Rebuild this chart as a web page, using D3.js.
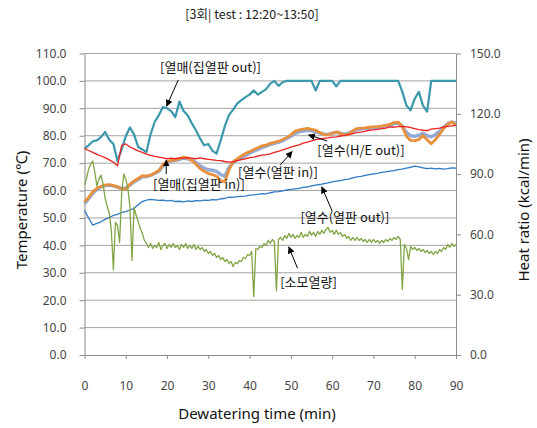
<!DOCTYPE html>
<html>
<head>
<meta charset="utf-8">
<script src="https://cdn.jsdelivr.net/npm/d3@7"></script>
<style>
  html, body { margin: 0; padding: 0; background: #fff; }
  svg { display: block; }
  .axis text { font-family: "Noto Sans", "Noto Sans CJK KR", sans-serif; font-size: 12px; fill: #454545; }
  .axis path, .axis line { stroke: #8c8c8c; }
</style>
</head>
<body>
<svg id="chart" width="537" height="428"></svg>
<script>
// Time axis (minutes) and tick values
const xTicks = [0, 10, 20, 30, 40, 50, 60, 70, 80, 90];
const tempTicks = [0, 10, 20, 30, 40, 50, 60, 70, 80, 90, 100, 110];
const heatTicks = [0, 30, 60, 90, 120, 150];

// Temperatures (°C), one reading per minute, 0..90 min
const mediumOut = [75.3, 76.5, 78.0, 78.3, 79.5, 81.4, 78.5, 77.0, 70.8, 75.0, 79.8, 83.0, 80.5, 75.9, 75.0, 74.0, 80.5, 85.0, 87.5, 90.5,
  90.0, 89.0, 86.8, 92.5, 89.0, 87.5, 84.5, 82.0, 79.0, 76.5, 77.0, 74.5, 73.5, 78.3, 83.5, 87.5, 89.5, 91.7, 93.0, 94.1,
  95.0, 96.5, 95.0, 96.0, 97.0, 99.0, 100.0, 98.2, 99.5, 100.0, 100.0, 100.0, 100.0, 100.0, 100.0, 100.0, 96.5, 100.0, 100.0, 100.0,
  100.0, 98.0, 100.0, 100.0, 100.0, 100.0, 100.0, 100.0, 100.0, 100.0, 100.0, 100.0, 100.0, 100.0, 100.0, 100.0, 100.0, 96.0, 91.0, 89.3,
  93.5, 96.0, 91.0, 88.8, 100.0, 100.0, 100.0, 100.0, 100.0, 100.0, 100.0];

const mediumIn = [75.3, 74.6, 73.9, 73.2, 72.6, 72.0, 71.2, 70.3, 69.0, 76.5, 77.0, 75.9, 75.2, 74.5, 73.9, 73.3, 72.8, 72.5, 72.2, 71.9,
  71.6, 71.8, 71.6, 71.9, 71.7, 72.0, 71.8, 71.6, 71.9, 71.6, 71.4, 71.2, 71.0, 70.9, 70.6, 70.4, 70.5, 70.9, 71.3, 71.6,
  72.0, 72.2, 72.6, 72.9, 73.1, 73.4, 73.9, 74.3, 74.8, 75.3, 75.8, 76.3, 76.7, 77.3, 77.7, 78.1, 78.6, 78.8, 79.0, 79.2,
  79.5, 79.6, 79.9, 80.1, 80.4, 80.8, 81.1, 81.3, 81.6, 82.0, 82.1, 82.3, 82.6, 82.8, 83.2, 83.1, 83.3, 83.4, 83.2, 83.0,
  82.6, 82.2, 82.0, 81.9, 82.4, 82.6, 82.8, 83.2, 83.4, 83.6, 83.8];

const waterExOut = [55.2, 57.0, 59.0, 60.5, 61.3, 61.8, 62.0, 61.7, 61.2, 60.8, 60.9, 62.0, 63.2, 64.0, 65.0, 65.1, 65.5, 66.2, 67.0, 69.0,
  70.2, 70.8, 71.0, 71.4, 71.8, 71.6, 71.2, 70.2, 69.0, 68.2, 67.6, 67.4, 67.0, 65.8, 65.2, 68.4, 70.2, 71.2, 72.0, 72.8,
  73.6, 74.4, 75.0, 75.6, 76.2, 76.8, 77.2, 77.6, 78.2, 79.0, 79.8, 80.8, 81.4, 81.7, 82.0, 81.8, 81.5, 81.0, 80.6, 80.5,
  80.9, 81.2, 80.9, 80.6, 80.9, 81.6, 82.2, 82.4, 82.6, 82.8, 83.0, 83.1, 83.3, 83.6, 83.9, 84.4, 84.6, 83.4, 81.2, 80.0,
  79.8, 80.2, 80.9, 80.0, 79.6, 80.4, 81.6, 83.0, 84.4, 85.0, 84.6];

const waterPlateIn = [55.9, 57.5, 59.5, 60.8, 61.5, 62.0, 62.2, 61.8, 61.4, 60.6, 60.5, 62.3, 63.5, 64.4, 65.4, 65.3, 65.6, 66.4, 67.3, 69.5,
  70.5, 71.0, 71.2, 71.6, 72.2, 71.8, 71.0, 69.6, 68.0, 67.0, 66.2, 65.8, 65.2, 63.6, 63.2, 67.5, 70.5, 71.6, 72.6, 73.5,
  74.2, 75.0, 75.6, 76.3, 76.6, 77.2, 77.6, 78.0, 78.6, 79.4, 80.3, 81.6, 82.1, 82.4, 82.7, 82.3, 82.0, 81.2, 80.4, 80.3,
  80.8, 81.4, 80.8, 80.2, 80.6, 81.8, 82.6, 82.8, 82.9, 83.1, 83.2, 83.3, 83.5, 83.8, 84.2, 84.8, 85.0, 83.3, 79.8, 78.3,
  78.2, 78.6, 80.1, 78.5, 77.1, 78.5, 80.5, 82.6, 84.2, 85.0, 83.8];

const waterPlateOut = [52.8, 50.0, 47.4, 48.0, 48.6, 49.5, 50.2, 50.9, 51.3, 52.0, 52.3, 52.9, 53.5, 54.8, 56.0, 56.5, 56.8, 56.6, 56.4, 56.5,
  56.2, 56.4, 56.0, 56.1, 55.9, 56.2, 56.0, 56.3, 56.2, 56.5, 56.4, 56.7, 56.6, 57.0, 57.1, 57.6, 57.5, 57.8, 57.9, 58.0,
  58.3, 58.4, 58.6, 58.9, 58.8, 59.2, 59.5, 59.6, 59.9, 60.2, 60.4, 60.6, 60.8, 61.2, 61.3, 61.7, 62.0, 62.2, 62.5, 62.8,
  63.2, 63.4, 63.6, 64.0, 64.2, 64.6, 65.0, 65.2, 65.5, 65.8, 66.1, 66.3, 66.6, 66.8, 67.1, 67.3, 67.6, 67.8, 68.2, 68.5,
  68.9, 68.6, 68.3, 68.0, 68.2, 67.9, 68.1, 67.8, 68.0, 68.3, 68.2];

// Heat consumption (kcal/min), one reading per half minute, 0..90 min
const heatRatio = [84.5, 88.0, 92.5, 95.0, 96.5, 91.0, 84.0, 87.5, 89.5, 85.0,
  78.0, 74.0, 70.5, 62.0, 42.5, 66.0, 64.5, 56.0, 80.0, 90.0,
  87.5, 83.0, 74.0, 47.0, 73.5, 69.5, 66.5, 63.0, 60.5, 57.0,
  55.5, 53.5, 55.5, 53.0, 54.5, 53.5, 56.0, 52.5, 54.5, 55.5,
  53.0, 55.0, 53.5, 55.5, 53.5, 54.5, 52.5, 55.0, 53.5, 55.5,
  53.0, 54.5, 53.0, 55.0, 52.5, 54.0, 52.5, 53.5, 51.5, 52.5,
  50.5, 51.5, 49.5, 50.5, 48.5, 49.5, 47.5, 48.5, 46.5, 47.5,
  45.5, 46.5, 44.0, 46.0, 45.5, 47.0, 46.5, 48.5, 48.0, 50.0,
  49.5, 51.5, 29.0, 53.0, 52.5, 54.0, 53.5, 55.5, 54.5, 57.0,
  55.5, 57.5, 56.5, 32.0, 57.5, 58.5, 57.0, 59.5, 58.0, 60.5,
  58.5, 60.0, 58.0, 59.5, 58.5, 61.0, 58.5, 60.0, 59.0, 61.5,
  59.5, 61.0, 59.0, 61.5, 60.0, 62.0, 60.5, 62.5, 63.5, 61.0,
  62.0, 60.0, 62.0, 60.0, 61.0, 59.0, 60.0, 58.0, 59.0, 57.0,
  58.5, 57.0, 58.5, 57.0, 58.0, 56.5, 57.5, 56.0, 57.5, 56.0,
  57.5, 56.0, 57.0, 55.5, 57.0, 56.0, 57.5, 56.5, 58.0, 57.0,
  58.5, 57.5, 59.0, 57.5, 32.5, 55.0, 53.0, 47.5, 54.0, 52.5,
  53.5, 52.0, 53.0, 51.5, 52.5, 51.0, 52.0, 50.5, 51.5, 50.0,
  51.5, 50.5, 52.5, 51.5, 53.5, 52.5, 55.0, 53.5, 55.5, 54.0,
  55.0];

const minutes = d3.range(0, 91, 1);
const halfMinutes = d3.range(0, 90.25, 0.5);

const svg = d3.select("#chart");
const plotLeft = 84.5, plotRight = 456, plotTop = 53.5, plotBottom = 355;

const x = d3.scaleLinear().domain([0, 90]).range([plotLeft, plotRight]);
const yT = d3.scaleLinear().domain([0, 110]).range([plotBottom, plotTop]);
const yH = d3.scaleLinear().domain([0, 150]).range([plotBottom, plotTop]);

// Horizontal gridlines
svg.append("g")
  .selectAll("line")
  .data(tempTicks.filter(d => d > 0))
  .join("line")
  .attr("x1", plotLeft).attr("x2", plotRight)
  .attr("y1", d => yT(d)).attr("y2", d => yT(d))
  .attr("stroke", "#a3a3a3").attr("stroke-width", 1);

// Axes
svg.append("g").attr("class", "axis")
  .attr("transform", `translate(${plotLeft},0)`)
  .call(d3.axisLeft(yT).tickValues(tempTicks).tickFormat(d3.format(".1f")).tickSize(5).tickPadding(13).tickSizeOuter(0));

svg.append("g").attr("class", "axis")
  .attr("transform", `translate(${plotRight},0)`)
  .call(d3.axisRight(yH).tickValues(heatTicks).tickFormat(d3.format(".1f")).tickSize(5).tickPadding(9).tickSizeOuter(0));

svg.append("g").attr("class", "axis")
  .attr("transform", `translate(0,${plotBottom})`)
  .call(d3.axisBottom(x).tickValues(xTicks).tickFormat(d3.format("d")).tickSize(4).tickPadding(22).tickSizeOuter(0));

// Series lines
const tempLine = data => d3.line().x((d, i) => x(minutes[i])).y(d => yT(d))(data);
const heatLine = d3.line().x((d, i) => x(halfMinutes[i])).y(d => yH(d));

const series = [
  { data: mediumOut, color: "#3b98ac", width: 2.2 },
  { data: waterExOut, color: "#92a9d6", width: 3.4 },
  { data: waterPlateIn, color: "#e7913d", width: 2.8 },
  { data: mediumIn, color: "#ee2020", width: 1.3 },
  { data: waterPlateOut, color: "#2e7bc6", width: 1.3 }
];

series.forEach(s => {
  svg.append("path")
    .attr("d", tempLine(s.data))
    .attr("fill", "none")
    .attr("stroke", s.color)
    .attr("stroke-width", s.width)
    .attr("stroke-linejoin", "round");
});

svg.append("path")
  .attr("d", heatLine(heatRatio))
  .attr("fill", "none")
  .attr("stroke", "#80a545")
  .attr("stroke-width", 1.3)
  .attr("stroke-linejoin", "round");

// Arrow marker for callouts
svg.append("defs").append("marker")
  .attr("id", "arrow")
  .attr("viewBox", "0 0 10 10")
  .attr("refX", 9).attr("refY", 5)
  .attr("markerWidth", 7).attr("markerHeight", 7)
  .attr("orient", "auto")
  .append("path").attr("d", "M0,0 L10,5 L0,10 z").attr("fill", "#000");

// Callouts: label anchored at (time, °C); arrow from -> to in the same units
const callouts = [
  { text: "[열매(집열판 out)]", at: [18.3, 103.2], from: [22.7, 100.3], to: [19.9, 90.8] },
  { text: "[열매(집열판 in)]", at: [16.6, 60.6], from: [19.8, 66.0], to: [19.8, 71.1] },
  { text: "[열수(열판 in)]", at: [37.2, 64.9], from: [47.4, 69.3], to: [50.3, 74.2] },
  { text: "[열수(H/E out)]", at: [56.4, 73.0], from: [58.8, 78.1], to: [54.3, 80.3] },
  { text: "[열수(열판 out)]", at: [52.3, 48.5], from: [60.0, 52.5], to: [57.5, 61.3] },
  { text: "[소모열량]", at: [47.4, 24.8], from: [51.6, 31.7], to: [49.5, 39.4] }
];

const cg = svg.append("g");
callouts.forEach(c => {
  cg.append("line")
    .attr("x1", x(c.from[0])).attr("y1", yT(c.from[1]))
    .attr("x2", x(c.to[0])).attr("y2", yT(c.to[1]))
    .attr("stroke", "#000").attr("stroke-width", 1)
    .attr("marker-end", "url(#arrow)");
  cg.append("text")
    .attr("x", x(c.at[0])).attr("y", yT(c.at[1]))
    .attr("font-family", '"Noto Sans CJK KR", "Noto Sans", sans-serif')
    .attr("font-size", 13)
    .attr("fill", "#111")
    .text(c.text);
});

// Titles
svg.append("text")
  .attr("x", 252).attr("y", 19)
  .attr("text-anchor", "middle")
  .attr("font-family", '"Noto Sans CJK KR", "Noto Sans", sans-serif')
  .attr("font-size", 12.5).attr("fill", "#222")
  .text("[3회| test : 12:20~13:50]");

svg.append("text")
  .attr("x", 257).attr("y", 419)
  .attr("text-anchor", "middle")
  .attr("font-family", '"Noto Sans", sans-serif')
  .attr("font-size", 15).attr("fill", "#111")
  .text("Dewatering time (min)");

svg.append("text")
  .attr("transform", "translate(27,210) rotate(-90)")
  .attr("text-anchor", "middle")
  .attr("font-family", '"Noto Sans", "DejaVu Sans", sans-serif')
  .attr("font-size", 15).attr("fill", "#111")
  .text("Temperature (℃)");

svg.append("text")
  .attr("transform", "translate(529,210) rotate(-90)")
  .attr("text-anchor", "middle")
  .attr("font-family", '"Noto Sans", sans-serif')
  .attr("font-size", 15).attr("fill", "#111")
  .text("Heat ratio (kcal/min)");
</script>
</body>
</html>
